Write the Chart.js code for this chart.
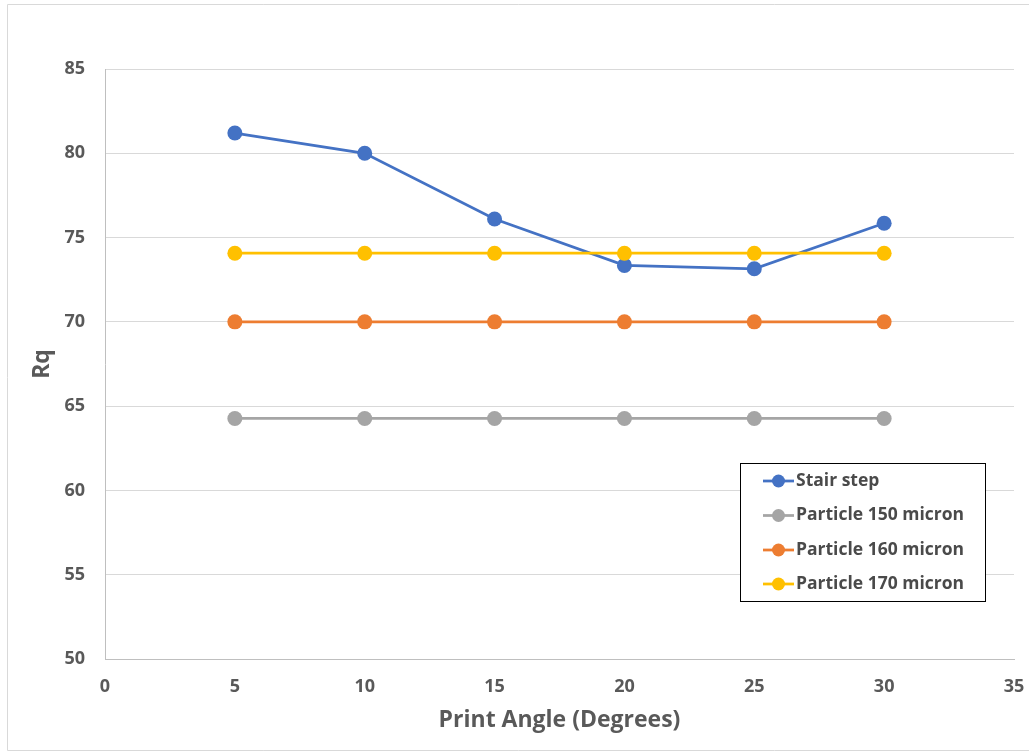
<!DOCTYPE html>
<html>
<head>
<meta charset="utf-8">
<script src="https://cdn.jsdelivr.net/npm/chart.js@4/dist/chart.umd.min.js"></script>
<style>
  html, body { margin: 0; padding: 0; background: #ffffff; }
  canvas { display: block; }
</style>
</head>
<body>
<canvas id="c" width="1029" height="753"></canvas>
<script>
// Print angle (degrees) on the x axis
const printAngles = [5, 10, 15, 20, 25, 30];

// Rq values per series
const stairStep   = [81.2, 80.0, 76.1, 73.35, 73.15, 75.85];
const particle150 = [64.27, 64.27, 64.27, 64.27, 64.27, 64.27];
const particle160 = [70.0, 70.0, 70.0, 70.0, 70.0, 70.0];
const particle170 = [74.07, 74.07, 74.07, 74.07, 74.07, 74.07];

const seriesNames  = ['Stair step', 'Particle 150 micron', 'Particle 160 micron', 'Particle 170 micron'];
const seriesColors = ['#4472C4', '#A5A5A5', '#ED7D31', '#FFC000'];

// Axis ticks
const xTicks = [0, 5, 10, 15, 20, 25, 30, 35];
const yTicks = [50, 55, 60, 65, 70, 75, 80, 85];

const TEXT = '#595959';
const FONT = '"Open Sans", "Noto Sans", sans-serif';

const seriesValues = [stairStep, particle150, particle160, particle170];

const datasets = seriesValues.map((vals, i) => ({
  label: seriesNames[i],
  data: vals.map((v, k) => ({ x: printAngles[k], y: v })),
  borderColor: seriesColors[i],
  backgroundColor: seriesColors[i],
  pointBackgroundColor: seriesColors[i],
  pointBorderColor: seriesColors[i],
  pointRadius: 7.5,
  pointBorderWidth: 0,
  borderWidth: 2.75,
  tension: 0,
  // later series are painted over earlier ones
  order: seriesNames.length - i
}));

// Outer frame and boxed legend inside the plot
const framePlugin = {
  id: 'frameAndLegend',
  beforeDraw(chart) {
    const ctx = chart.ctx;
    ctx.save();
    ctx.strokeStyle = '#d9d9d9';
    ctx.lineWidth = 1;
    ctx.beginPath();
    ctx.moveTo(1040, 4.5);
    ctx.lineTo(7.5, 4.5);
    ctx.lineTo(7.5, 750.5);
    ctx.lineTo(1040, 750.5);
    ctx.stroke();
    ctx.restore();
  },
  afterDraw(chart) {
    const ctx = chart.ctx;
    const box = { left: 740, top: 463, right: 985, bottom: 601 };
    ctx.save();
    ctx.fillStyle = '#ffffff';
    ctx.fillRect(box.left, box.top, box.right - box.left, box.bottom - box.top);
    ctx.strokeStyle = '#000000';
    ctx.lineWidth = 1;
    ctx.strokeRect(box.left + 0.5, box.top + 0.5, box.right - box.left, box.bottom - box.top);
    const rowY = [481, 515.5, 550, 584];
    ctx.font = 'bold 17.5px ' + FONT;
    ctx.textBaseline = 'middle';
    ctx.textAlign = 'left';
    chart.data.datasets.forEach((ds, i) => {
      const y = rowY[i];
      ctx.strokeStyle = ds.borderColor;
      ctx.lineWidth = 2.75;
      ctx.beginPath();
      ctx.moveTo(763, y);
      ctx.lineTo(794, y);
      ctx.stroke();
      ctx.fillStyle = ds.borderColor;
      ctx.beginPath();
      ctx.arc(778.5, y, 6.5, 0, Math.PI * 2);
      ctx.fill();
      ctx.fillStyle = '#4a4a4a';
      ctx.fillText(ds.label, 796, y);
    });
    ctx.restore();
  }
};

new Chart(document.getElementById('c'), {
  type: 'line',
  data: { datasets },
  plugins: [framePlugin],
  options: {
    responsive: false,
    animation: false,
    events: [],
    layout: { padding: { left: 0, top: 69, right: 15, bottom: 0 } },
    plugins: {
      legend: { display: false },
      tooltip: { enabled: false },
      title: { display: false }
    },
    scales: {
      x: {
        type: 'linear',
        min: 0,
        max: 35,
        afterBuildTicks(scale) { scale.ticks = xTicks.map(v => ({ value: v })); },
        afterFit(scale) {
          scale.height = 753 - 659;
          scale.paddingLeft = 0;
          scale.paddingRight = 0;
        },
        grid: { display: false, drawTicks: false },
        border: { display: true, color: '#bfbfbf', width: 1 },
        ticks: {
          padding: 17,
          maxRotation: 0,
          autoSkip: false,
          color: TEXT,
          font: { family: FONT, size: 18, weight: 'bold' }
        },
        title: {
          display: true,
          text: 'Print Angle (Degrees)',
          color: TEXT,
          padding: { top: 0, bottom: 19 },
          font: { family: FONT, size: 23, weight: 'bold' }
        }
      },
      y: {
        type: 'linear',
        min: 50,
        max: 85,
        afterBuildTicks(scale) { scale.ticks = yTicks.map(v => ({ value: v })); },
        afterFit(scale) {
          scale.width = 105;
          scale.paddingTop = 0;
          scale.paddingBottom = 0;
        },
        grid: { display: true, drawTicks: false, color: '#d9d9d9', lineWidth: 1 },
        border: { display: true, color: '#bfbfbf', width: 1 },
        ticks: {
          padding: 20,
          autoSkip: false,
          color: TEXT,
          font: { family: FONT, size: 18, weight: 'bold' }
        },
        title: {
          display: true,
          text: 'Rq',
          color: TEXT,
          padding: { top: 29, bottom: 0 },
          font: { family: FONT, size: 23, weight: 'bold' }
        }
      }
    }
  }
});
</script>
</body>
</html>
